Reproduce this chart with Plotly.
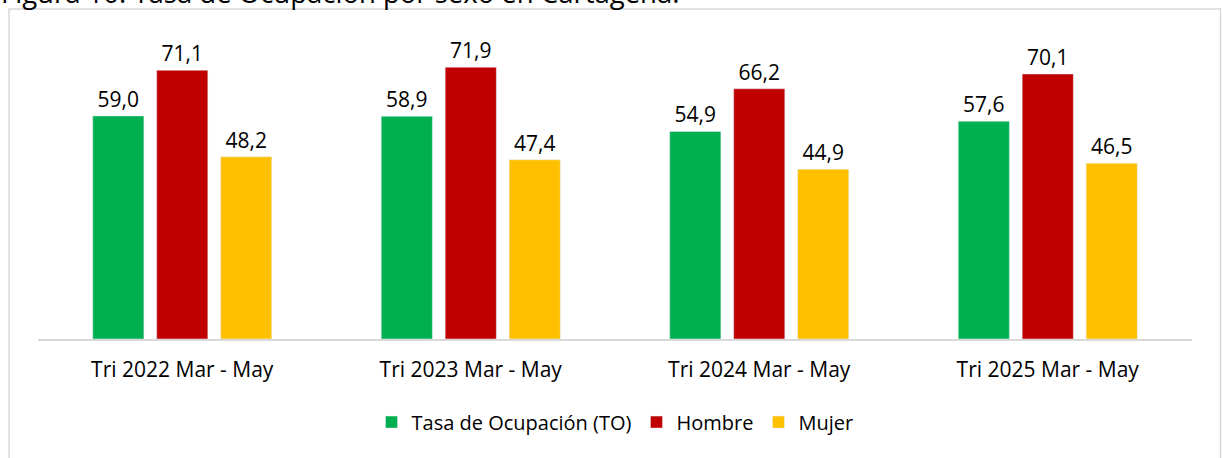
import plotly.graph_objects as go

# Datos: Tasa de Ocupación por sexo en Cartagena (trimestre Mar - May)
categorias = ["Tri 2022 Mar - May", "Tri 2023 Mar - May", "Tri 2024 Mar - May", "Tri 2025 Mar - May"]
tasa_ocupacion = [59.0, 58.9, 54.9, 57.6]
hombre = [71.1, 71.9, 66.2, 70.1]
mujer = [48.2, 47.4, 44.9, 46.5]

series = [
    ("Tasa de Ocupación (TO)", tasa_ocupacion, "#00B050"),
    ("Hombre", hombre, "#C00000"),
    ("Mujer", mujer, "#FFC000"),
]

fuente = "Open Sans"

fig = go.Figure()
for nombre, valores, color in series:
    fig.add_trace(go.Bar(
        x=categorias, y=valores, name=nombre,
        marker=dict(color=color),
        text=[f"{v:.1f}".replace(".", ",") for v in valores],
        textposition="outside", cliponaxis=False,
        textfont=dict(family=fuente, size=21, color="#000000"),
    ))

fig.update_layout(
    width=1222, height=458,
    margin=dict(l=38, r=30, t=29, b=119),
    barmode="group", bargap=0.335, bargroupgap=0.2,
    plot_bgcolor="white", paper_bgcolor="white",
    font=dict(family=fuente, size=21, color="#000000"),
    showlegend=True,
    legend=dict(orientation="h", x=0.5, xanchor="center", y=-0.268, yanchor="middle",
                font=dict(family=fuente, size=20), itemwidth=30, traceorder="normal"),
    xaxis=dict(showline=True, linecolor="#D9D9D9", linewidth=1.5, ticks="",
               showgrid=False, tickfont=dict(size=21), ticklabelstandoff=11),
    yaxis=dict(range=[0, 82], visible=False, showgrid=False),
    annotations=[dict(text="Figura 10. Tasa de Ocupación por sexo en Cartagena.",
                      xref="paper", yref="paper", x=-0.034, y=1.0516, xanchor="left",
                      yanchor="bottom", showarrow=False,
                      font=dict(family=fuente, size=27.5, color="#000000"))],
    shapes=[dict(type="rect", xref="paper", yref="paper",
                 x0=-0.0251, x1=1.0247, y0=-0.42, y1=1.0645,
                 line=dict(color="#D9D9D9", width=1.5), fillcolor="rgba(0,0,0,0)",
                 layer="below")],
)

# la página no debe dejar margen alrededor del gráfico
fig.write_html("out.html", config={"displayModeBar": False},
               post_script="document.body.style.margin='0';document.body.style.overflow='hidden';")
